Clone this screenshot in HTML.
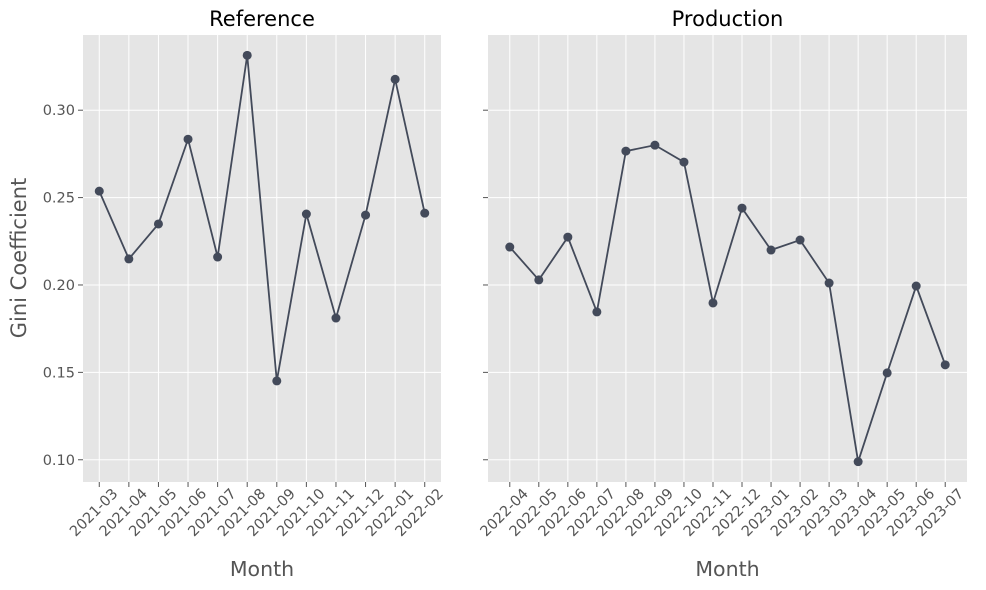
<!DOCTYPE html>
<html><head><meta charset="utf-8"><style>
body{margin:0;background:#fff}
svg{display:block;font-family:"DejaVu Sans","Liberation Sans",sans-serif}
</style></head><body>
<svg id="c" width="986" height="590"></svg>
<script>
const refCats=["2021-03","2021-04","2021-05","2021-06","2021-07","2021-08","2021-09","2021-10","2021-11","2021-12","2022-01","2022-02"];
const refVals=[0.2537,0.2149,0.2349,0.2834,0.216,0.3314,0.1451,0.2406,0.1811,0.240,0.3177,0.2411];
const prodCats=["2022-04","2022-05","2022-06","2022-07","2022-08","2022-09","2022-10","2022-11","2022-12","2023-01","2023-02","2023-03","2023-04","2023-05","2023-06","2023-07"];
const prodVals=[0.2217,0.2029,0.2274,0.1846,0.2766,0.28,0.2703,0.1897,0.244,0.22,0.2257,0.2011,0.0989,0.1497,0.1994,0.1543];
const yTicks=[0.10,0.15,0.20,0.25,0.30];
const yTickLabels=["0.10","0.15","0.20","0.25","0.30"];

const NS="http://www.w3.org/2000/svg";
const svg=document.getElementById('c');
function mk(t,a,p){const e=document.createElementNS(NS,t);for(const k in a)e.setAttribute(k,a[k]);(p||svg).appendChild(e);return e;}
const allVals=refVals.concat(prodVals);
const vmin=Math.min(...allVals),vmax=Math.max(...allVals),vr=vmax-vmin;
const y0=vmin-0.05*vr,y1=vmax+0.05*vr;
const plotTop=35,plotBot=482;
function y(v){return plotBot-(v-y0)/(y1-y0)*(plotBot-plotTop);}

function panel(name,title,cats,vals,left,right,showY){
  const g=mk('g',{});
  
  
  const bg=mk('rect',{x:left,y:plotTop,width:right-left,height:plotBot-plotTop,fill:'#e5e5e5'},g);
  
  
  const n=cats.length,m=0.05*(n-1);
  function x(i){return left+(i+m)/(n-1+2*m)*(right-left);}
  yTicks.forEach((t,i)=>{
    const l=mk('line',{x1:left,x2:right,y1:y(t),y2:y(t),stroke:'#fff','stroke-width':1},g);
    
    
    mk('line',{x1:left-5,x2:left,y1:y(t),y2:y(t),stroke:'#555','stroke-width':1},g);
    if(showY){
      const tx=mk('text',{x:left-8,y:y(t)+5,'text-anchor':'end','font-size':14.5,fill:'#555'},g);
      tx.textContent=yTickLabels[i];
      
      
    }
  });
  cats.forEach((c,i)=>{
    const l=mk('line',{x1:x(i),x2:x(i),y1:plotTop,y2:plotBot,stroke:'#fff','stroke-width':1},g);
    
    
    mk('line',{x1:x(i),x2:x(i),y1:plotBot,y2:plotBot+5,stroke:'#555','stroke-width':1},g);
    const cy=513;
    const tx=mk('text',{x:x(i)-5,y:cy,'text-anchor':'middle','dominant-baseline':'central','font-size':14.5,fill:'#555',transform:`rotate(-45 ${x(i)-5} ${cy})`},g);
    tx.textContent=c;
    
    
  });
  const pl=mk('polyline',{points:vals.map((v,i)=>x(i)+','+y(v)).join(' '),fill:'none',stroke:'#434a5a','stroke-width':1.8},g);
  
  
  vals.forEach((v,i)=>{
    const c=mk('circle',{cx:x(i),cy:y(v),r:4.5,fill:'#434a5a'},g);
    
    
  });
  const tt=mk('text',{x:(left+right)/2,y:26,'text-anchor':'middle','font-size':21,fill:'#000'},g);
  tt.textContent=title;
  
  
  const xl=mk('text',{x:(left+right)/2,y:576,'text-anchor':'middle','font-size':20.5,fill:'#555'},g);
  xl.textContent='Month';
  
  
}
panel('reference','Reference',refCats,refVals,83,441,true);
panel('production','Production',prodCats,prodVals,488,967,false);
const yl=mk('text',{x:19,y:258,'text-anchor':'middle','font-size':21,fill:'#555',transform:'rotate(-90 19 258)','dominant-baseline':'central'});
yl.textContent='Gini Coefficient';


</script>
</body></html>
